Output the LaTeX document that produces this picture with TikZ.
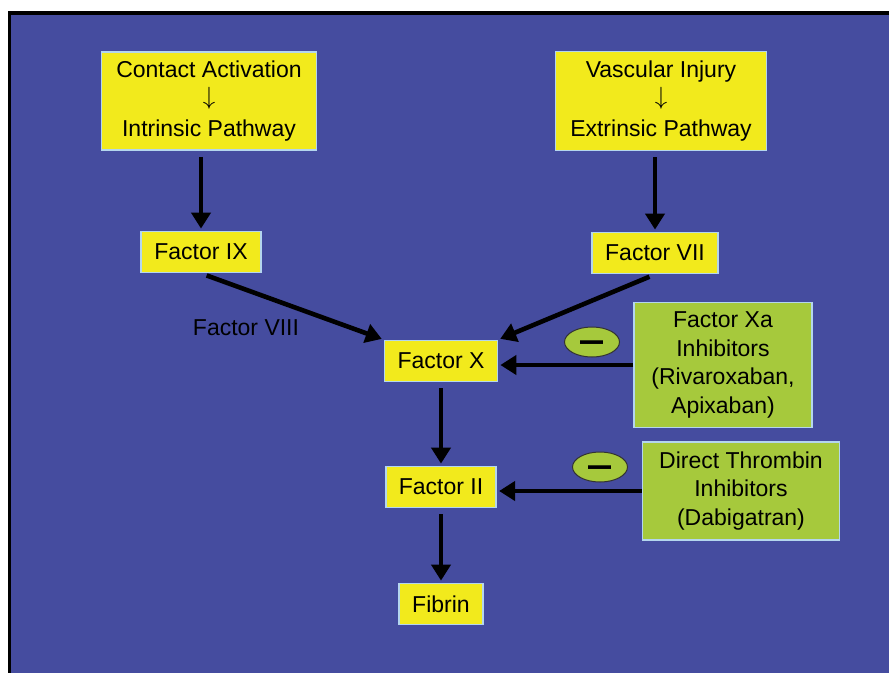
\documentclass[tikz,border=0pt]{standalone}
\usepackage{fontspec}
\setmainfont{Liberation Sans}
\usetikzlibrary{arrows.meta,shapes.geometric}
\definecolor{slideblue}{HTML}{454C9F}
\definecolor{boxyellow}{HTML}{F2EA1C}
\definecolor{boxgreen}{HTML}{A6C93C}
\definecolor{boxedge}{HTML}{B4D6EE}

\begin{document}
\begin{tikzpicture}[x=1pt,y=-1pt,
  every node/.style={font=\fontsize{23}{28.5}\selectfont},
  factor/.style={draw=boxedge,line width=1.8pt,fill=boxyellow,inner xsep=13pt,minimum height=41pt,align=center},
  drug/.style={draw=boxedge,line width=1.8pt,fill=boxgreen,align=center,inner sep=0pt},
  inhibit/.style={ellipse,draw=black!80,line width=1pt,fill=boxgreen,minimum width=55pt,minimum height=30pt,inner sep=0pt},
  fat/.style={line width=4.6pt,-{Triangle[width=19pt,length=16pt]},shorten >=2pt,shorten <=6pt}]
\useasboundingbox (0,0) rectangle (889,673);
\fill[white] (0,0) rectangle (889,673);
\fill[black] (8,11) rectangle (889,673);
\fill[slideblue] (11,15) rectangle (889,673);

\node[factor,minimum width=215pt,minimum height=98pt] (contact) at (209,101) {Contact Activation\\[-1pt]$\downarrow$\\[3pt]Intrinsic Pathway};
\node[factor,minimum width=211pt,minimum height=99pt] (injury) at (661,101) {Vascular Injury\\[-1pt]$\downarrow$\\[3pt]Extrinsic Pathway};
\node[factor] (ix) at (201,252) {Factor IX};
\node[factor] (vii) at (655,253) {Factor VII};
\node[factor] (fx) at (441,361) {Factor X};
\node[factor] (fii) at (441,487) {Factor II};
\node[factor] (fibrin) at (441,604) {Fibrin};
\node (viii) at (246,328) {Factor VIII};
\node[drug,minimum width=178pt,minimum height=125pt] (xa) at (723,365) {Factor Xa\\Inhibitors\\(Rivaroxaban,\\Apixaban)};
\node[drug,minimum width=197pt,minimum height=98pt] (dti) at (741,491) {Direct Thrombin\\Inhibitors\\(Dabigatran)};
\node[inhibit] (m1) at (592,342) {\raisebox{-10pt}[0pt][0pt]{\scalebox{1}[1.6]{\bfseries —}}};
\node[inhibit] (m2) at (600,467) {\raisebox{-10pt}[0pt][0pt]{\scalebox{1}[1.6]{\bfseries —}}};

\draw[fat] (contact.south -| ix) -- (ix);
\draw[fat] (injury.south -| vii) -- (vii);
\draw[fat] (ix.south) -- (fx.north west);
\draw[fat] (vii.south) -- (fx.north east);
\draw[fat,shorten <=0pt] (xa.west) -- (fx.east |- xa.west);
\draw[fat,shorten <=0pt] (dti.west) -- (fii.east |- dti.west);
\draw[fat] (fx) -- (fii);
\draw[fat] (fii) -- (fibrin);
\end{tikzpicture}
\end{document}
